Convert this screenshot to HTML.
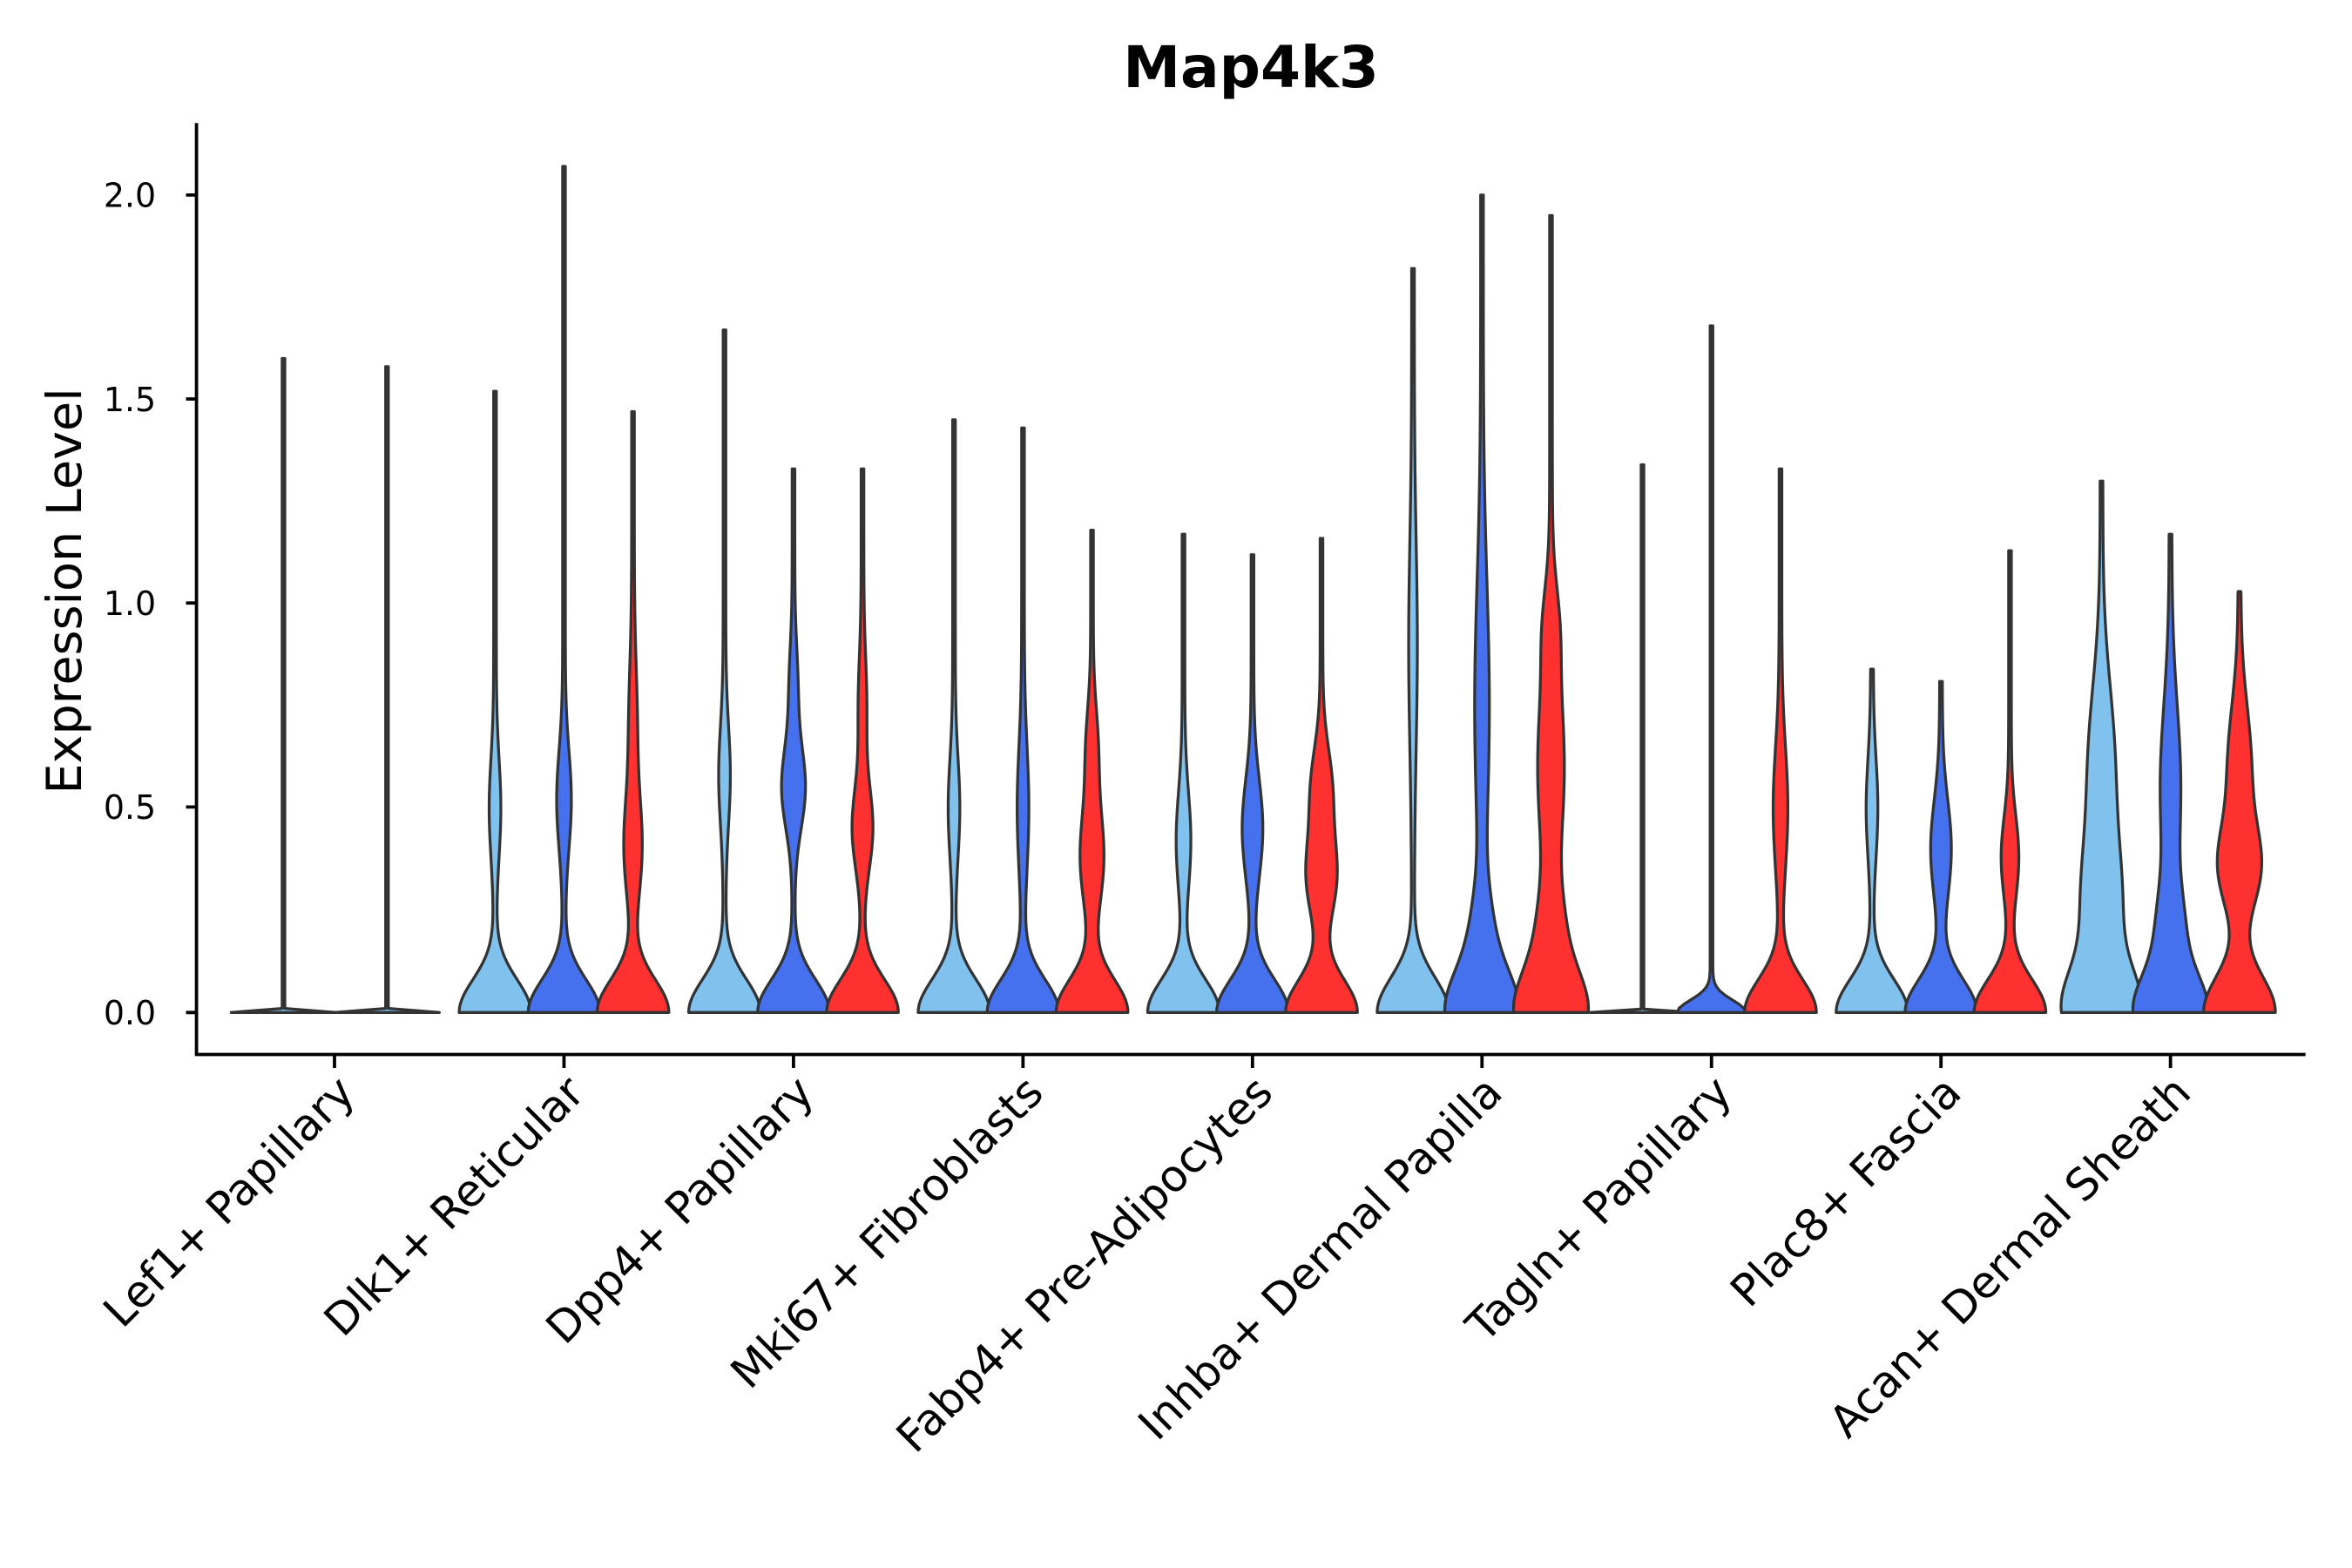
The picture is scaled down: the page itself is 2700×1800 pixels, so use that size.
<!DOCTYPE html>
<html><head><meta charset="utf-8"><style>
html,body{margin:0;padding:0;background:#fff;}
svg{display:block;}
text{font-family:"DejaVu Sans","Liberation Sans",sans-serif;fill:#000;}
</style></head><body>
<svg id="s" width="2700" height="1800" viewBox="0 0 1568 1045.33" xmlns="http://www.w3.org/2000/svg">
<rect width="1568" height="1046" fill="#fff"/>
<g id="v"></g>
<g stroke="#000" stroke-width="2.2" fill="none">
<path d="M131 82 V703 H1537"/>
<path d="M124 675H131M124 538H131M124 402H131M124 266H131M124 130H131"/>
<path d="M223 703V712M376 703V712M529 703V712M682 703V712M835 703V712M988 703V712M1141 703V712M1294 703V712M1447 703V712"/>
</g>
<text x="834" y="58" text-anchor="middle" font-size="38.4" font-weight="bold">Map4k3</text>
<g font-size="22" text-anchor="end">
<text x="104" y="683">0.0</text><text x="104" y="546">0.5</text><text x="104" y="410">1.0</text><text x="104" y="274">1.5</text><text x="104" y="138">2.0</text>
</g>
<text transform="translate(54,394) rotate(-90)" text-anchor="middle" font-size="32.3">Expression Level</text>
<g font-size="29.3" text-anchor="end">
<text transform="translate(238,730) rotate(-45)">Lef1+ Papillary</text>
<text transform="translate(391,730) rotate(-45)">Dlk1+ Reticular</text>
<text transform="translate(544,730) rotate(-45)">Dpp4+ Papillary</text>
<text transform="translate(697,730) rotate(-45)">Mki67+ Fibroblasts</text>
<text transform="translate(850,730) rotate(-45)">Fabp4+ Pre-Adipocytes</text>
<text transform="translate(1003,730) rotate(-45)">Inhba+ Dermal Papilla</text>
<text transform="translate(1156,730) rotate(-45)">Tagln+ Papillary</text>
<text transform="translate(1309,730) rotate(-45)">Plac8+ Fascia</text>
<text transform="translate(1462,730) rotate(-45)">Acan+ Dermal Sheath</text>
</g>
</svg>
<script>
var L="#80c1ee",B="#4571ee",R="#ff3030";
var V=[
[189,L,1.60,34,0.002,[]],[258,L,1.58,34,0.002,[]],
[330,L,1.52,23,0.08,[[0.5,3,0.12]]],[376,B,2.07,23,0.08,[[0.52,4,0.12]]],[422,R,1.47,23,0.08,[[0.4,5,0.12],[0.7,2,0.15]]],
[483,L,1.67,23,0.08,[[0.58,3,0.12]]],[529,B,1.33,23,0.08,[[0.55,7,0.1],[0.8,2,0.1]]],[575,R,1.33,23,0.08,[[0.45,6,0.1],[0.75,2,0.12]]],
[636,L,1.45,23,0.08,[[0.5,3,0.12]]],[682,B,1.43,23,0.08,[[0.5,3,0.15]]],[728,R,1.18,23,0.08,[[0.38,7,0.12],[0.65,3,0.1]]],
[789,L,1.17,23,0.08,[[0.42,4,0.12]]],[835,B,1.12,23,0.08,[[0.45,6,0.12]]],[881,R,1.16,23,0.08,[[0.33,9,0.1],[0.55,6,0.1]]],
[942,L,1.82,23,0.085,[[0.9,2,0.25]]],[988,B,2.0,23,0.1,[[0.2,5,0.1],[0.75,4,0.3]]],[1034,R,1.95,23,0.1,[[0.2,6,0.1],[0.6,8,0.22],[0.95,3,0.1]]],
[1095,L,1.34,34,0.002,[]],[1141,B,1.68,22,0.03,[]],[1187,R,1.33,23,0.08,[[0.5,4,0.15]]],
[1248,L,0.84,23,0.08,[[0.5,3,0.12]]],[1294,B,0.81,23,0.08,[[0.4,6,0.12]]],[1340,R,1.13,23,0.08,[[0.38,5,0.1]]],
[1401,L,1.30,23,0.1,[[0.25,11,0.15],[0.6,8,0.2]]],[1447,B,1.17,23,0.09,[[0.2,7,0.1],[0.55,6,0.2]]],[1493,R,1.03,23,0.09,[[0.35,12,0.1],[0.6,7,0.15]]]
];
var y0=675,k=272.5,g=document.getElementById("v"),h="";
V.forEach(function(d){
 var x=d[0],mx=d[2],w0=d[3],s=d[4],bs=d[5],n=160,r=[],l=[];
 for(var i=0;i<=n;i++){
  var v=mx*i/n,w=0.9+w0*Math.exp(-0.5*Math.pow(v/s,2));
  bs.forEach(function(b){w+=b[1]*Math.exp(-0.5*Math.pow((v-b[0])/b[2],2));});
  if(i==n)w=0.9;
  var y=y0-v*k;
  r.push((x+w).toFixed(2)+" "+y.toFixed(2));l.unshift((x-w).toFixed(2)+" "+y.toFixed(2));
 }
 h+='<path d="M'+r.join(" L")+" L"+l.join(" L")+'Z" fill="'+d[1]+'" stroke="#333" stroke-width="1.9" stroke-linejoin="round"/>';
});
g.innerHTML=h;
</script>
</body></html>
